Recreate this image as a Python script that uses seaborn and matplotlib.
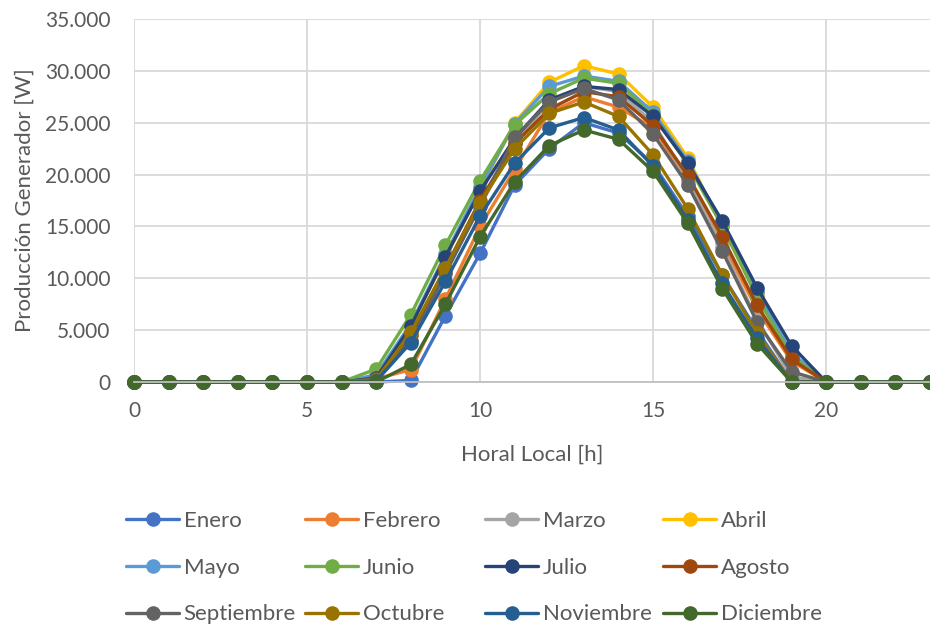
import pandas as pd
import numpy as np
import matplotlib
matplotlib.use("Agg")
import matplotlib.pyplot as plt
from matplotlib.ticker import FuncFormatter, MultipleLocator
import seaborn as sns

horas = list(range(24))
meses = ["Enero", "Febrero", "Marzo", "Abril", "Mayo", "Junio",
         "Julio", "Agosto", "Septiembre", "Octubre", "Noviembre", "Diciembre"]
colores = ["#4472C4", "#ED7D31", "#A5A5A5", "#FFC000", "#5B9BD5", "#70AD47",
           "#264478", "#9E480E", "#636363", "#997300", "#255E91", "#43682B"]

ceros_manana = [0] * 7   # 0h - 6h
ceros_noche = [0] * 4    # 20h - 23h

# valores de 7h a 19h
enero      = [0, 150, 6400, 12400, 19000, 22500, 25000, 24000, 21000, 16000, 10300, 5000, 0]
febrero    = [300, 1200, 8000, 15000, 20500, 26000, 27500, 26500, 24500, 19500, 13500, 7000, 2000]
marzo      = [400, 4000, 10500, 17000, 23000, 27000, 28500, 28000, 25000, 19500, 13000, 6000, 500]
abril      = [600, 5500, 12000, 18500, 25000, 28900, 30500, 29700, 26500, 21600, 15000, 8500, 2500]
mayo       = [700, 5600, 12300, 18800, 24900, 28500, 29500, 29000, 26000, 21300, 15200, 8700, 2800]
junio      = [1250, 6500, 13200, 19400, 24800, 27800, 29300, 28800, 25700, 21000, 15000, 8200, 2500]
julio      = [400, 5400, 12100, 18400, 23500, 27200, 28500, 28200, 25600, 21100, 15500, 9100, 3500]
agosto     = [300, 4500, 11000, 17500, 23000, 26300, 28000, 27500, 24700, 19900, 14000, 7400, 2200]
septiembre = [300, 4000, 10500, 17000, 23600, 27000, 28300, 27200, 23900, 19000, 12600, 5800, 1000]
octubre    = [200, 4800, 11000, 17300, 22500, 25900, 27000, 25600, 21900, 16700, 10300, 4700, 0]
noviembre  = [100, 3800, 9700, 16000, 21100, 24500, 25500, 24300, 20800, 15600, 9500, 4200, 0]
diciembre  = [0, 1700, 7500, 14000, 19300, 22800, 24300, 23400, 20300, 15300, 9000, 3700, 0]

series = [enero, febrero, marzo, abril, mayo, junio, julio, agosto,
          septiembre, octubre, noviembre, diciembre]

filas = []
for mes, vals in zip(meses, series):
    completo = ceros_manana + vals + ceros_noche
    for h, v in zip(horas, completo):
        filas.append({"Hora": h, "Produccion": v, "Mes": mes})
df = pd.DataFrame(filas)

sns.set_style("white")
plt.rcParams["font.family"] = ["Lato", "DejaVu Sans"]
gris_texto = "#595959"

fig = plt.figure(figsize=(9.3, 6.29), dpi=100)
ax = fig.add_axes([134 / 930, 1 - 382 / 629, 1 - 134 / 930, (382 - 19) / 629])

sns.lineplot(data=df, x="Hora", y="Produccion", hue="Mes", hue_order=meses,
             palette=colores, marker="o", markersize=10.5, markeredgewidth=0,
             linewidth=2.4, ax=ax, clip_on=False, legend=True)

ax.set_xlim(0, 23)
ax.set_ylim(0, 35000)
ax.xaxis.set_major_locator(MultipleLocator(5))
ax.yaxis.set_major_locator(MultipleLocator(5000))
ax.yaxis.set_major_formatter(FuncFormatter(lambda v, p: f"{v:,.0f}".replace(",", ".")))
ax.grid(True, color="#D9D9D9", linewidth=1.3)
ax.set_axisbelow(True)
for lado in ["top", "right", "left"]:
    ax.spines[lado].set_visible(False)
ax.spines["bottom"].set_color("#BFBFBF")
ax.spines["bottom"].set_linewidth(1.3)
ax.tick_params(axis="both", length=0, labelsize=15, colors=gris_texto)
ax.tick_params(axis="y", pad=17)
ax.tick_params(axis="x", pad=13.5)

ax.set_xlabel("Horal Local [h]", fontsize=16, color=gris_texto, labelpad=17)
ax.set_ylabel("Producción Generador [W]", fontsize=16, color=gris_texto, labelpad=7)

# leyenda: una columna por cada grupo de 4 meses, anchos iguales como en Excel
handles, labels = ax.get_legend_handles_labels()
ax.get_legend().remove()
col_x = [126, 305, 485, 663]
for c, x0 in enumerate(col_x):
    idx = [r * 4 + c for r in range(3)]
    fig.legend([handles[i] for i in idx], [labels[i] for i in idx],
               loc="upper left", bbox_to_anchor=(x0 / 930, 1 - 511 / 629),
               frameon=False, fontsize=16, labelcolor=gris_texto,
               handlelength=2.4, handletextpad=0.2, labelspacing=1.2,
               borderpad=0, borderaxespad=0)

fig.savefig("out.png", dpi=100)
